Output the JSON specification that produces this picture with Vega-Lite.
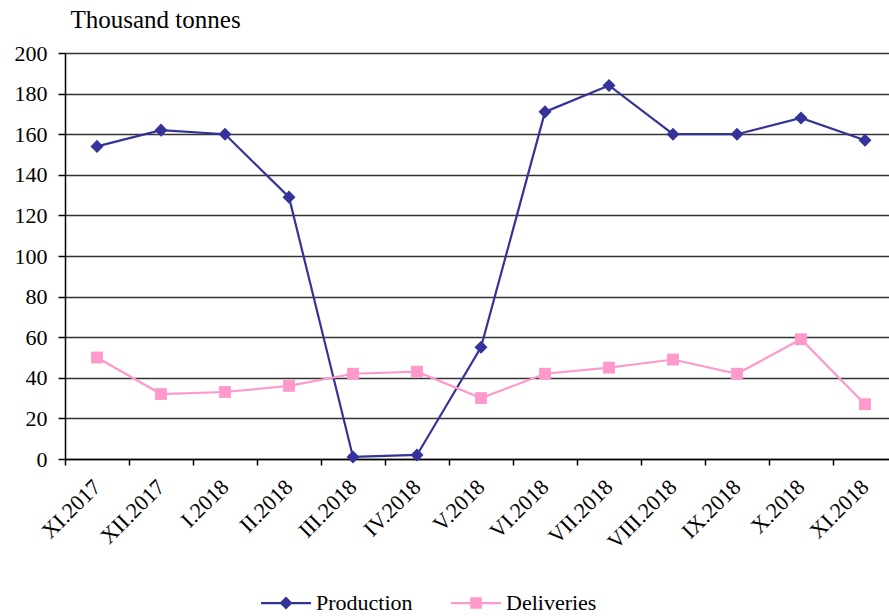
{
  "$schema": "https://vega.github.io/schema/vega-lite/v6.json",
  "autosize": "none",
  "width": 824,
  "height": 406,
  "padding": {"left": 65, "top": 53, "right": 0, "bottom": 157},
  "background": "white",
  "data": {"values": [
    {"month": "XI.2017", "series": "Production", "value": 154},
    {"month": "XII.2017", "series": "Production", "value": 162},
    {"month": "I.2018", "series": "Production", "value": 160},
    {"month": "II.2018", "series": "Production", "value": 129},
    {"month": "III.2018", "series": "Production", "value": 1},
    {"month": "IV.2018", "series": "Production", "value": 2},
    {"month": "V.2018", "series": "Production", "value": 55},
    {"month": "VI.2018", "series": "Production", "value": 171},
    {"month": "VII.2018", "series": "Production", "value": 184},
    {"month": "VIII.2018", "series": "Production", "value": 160},
    {"month": "IX.2018", "series": "Production", "value": 160},
    {"month": "X.2018", "series": "Production", "value": 168},
    {"month": "XI.2018", "series": "Production", "value": 157},
    {"month": "XI.2017", "series": "Deliveries", "value": 50},
    {"month": "XII.2017", "series": "Deliveries", "value": 32},
    {"month": "I.2018", "series": "Deliveries", "value": 33},
    {"month": "II.2018", "series": "Deliveries", "value": 36},
    {"month": "III.2018", "series": "Deliveries", "value": 42},
    {"month": "IV.2018", "series": "Deliveries", "value": 43},
    {"month": "V.2018", "series": "Deliveries", "value": 30},
    {"month": "VI.2018", "series": "Deliveries", "value": 42},
    {"month": "VII.2018", "series": "Deliveries", "value": 45},
    {"month": "VIII.2018", "series": "Deliveries", "value": 49},
    {"month": "IX.2018", "series": "Deliveries", "value": 42},
    {"month": "X.2018", "series": "Deliveries", "value": 59},
    {"month": "XI.2018", "series": "Deliveries", "value": 27}
  ]},
  "encoding": {
    "x": {
      "field": "month", "type": "ordinal",
      "sort": ["XI.2017","XII.2017","I.2018","II.2018","III.2018","IV.2018","V.2018","VI.2018","VII.2018","VIII.2018","IX.2018","X.2018","XI.2018"],
      "scale": {"type": "band", "range": [0, 832], "paddingInner": 0, "paddingOuter": 0},
      "axis": {
        "title": null, "bandPosition": 0, "labelAngle": -45, "labelAlign": "right", "labelBaseline": "middle",
        "labelFontSize": 22, "labelColor": "black",
        "labelPadding": 18, "tickSize": 6, "tickColor": "black", "domainColor": "black", "domainWidth": 1.5, "tickWidth": 1.5,
        "grid": false, "labelOverlap": false
      }
    },
    "y": {
      "field": "value", "type": "quantitative",
      "scale": {"domain": [0, 200], "nice": false},
      "axis": {
        "values": [0,20,40,60,80,100,120,140,160,180,200],
        "title": "Thousand tonnes", "titleAngle": 0, "titleX": 5, "titleY": -26, "titleAlign": "left", "titleBaseline": "alphabetic",
        "titleFontSize": 25, "titleFontWeight": "normal", "titleColor": "black",
        "labelFontSize": 22, "labelColor": "black", "labelPadding": 11,
        "tickSize": 7, "tickColor": "black", "tickWidth": 1.5, "domainColor": "black", "domainWidth": 1.5,
        "grid": true, "gridColor": "#333333", "gridWidth": 1.3
      }
    }
  },
  "layer": [
    {
      "transform": [{"filter": "datum.series === 'Production'"}],
      "mark": {"type": "line", "strokeWidth": 2.2, "color": "#333399"},
      "encoding": {}
    },
    {
      "transform": [{"filter": "datum.series === 'Deliveries'"}],
      "mark": {"type": "line", "strokeWidth": 2.2, "color": "#FF99CC"},
      "encoding": {}
    },
    {
      "transform": [{"filter": "datum.series === 'Production'"}],
      "mark": {"type": "point", "filled": true, "opacity": 1, "shape": "diamond", "size": 170, "color": "#333399"}
    },
    {
      "transform": [{"filter": "datum.series === 'Deliveries'"}],
      "mark": {"type": "point", "filled": true, "opacity": 1, "shape": "square", "size": 140, "color": "#FF99CC"}
    },
    {
      "mark": {"type": "point", "filled": true, "opacity": 0, "size": 2500},
      "encoding": {
        "color": {"field": "series", "type": "nominal", "scale": {"domain": ["Production", "Deliveries"], "range": ["#333399", "#FF99CC"]},
          "legend": {"title": null, "orient": "none", "legendX": 196, "legendY": 525, "direction": "horizontal", "symbolOpacity": 1}},
        "shape": {"field": "series", "type": "nominal", "scale": {"domain": ["Production", "Deliveries"], "range": [
          "M-1,-0.045H1V0.045H-1Z M0,-0.26L0.26,0L0,0.26L-0.26,0Z",
          "M-1,-0.045H1V0.045H-1Z M-0.23,-0.23H0.23V0.23H-0.23Z"]},
          "legend": {"title": null, "orient": "none", "legendX": 196, "legendY": 525, "direction": "horizontal", "symbolOpacity": 1}}
      }
    }
  ],
  "config": {
    "font": "Liberation Serif, Times New Roman, Times, serif",
    "view": {"stroke": null},
    "legend": {
      "labelFontSize": 22, "labelColor": "black", "labelOffset": 5,
      "symbolSize": 2500, "symbolStrokeWidth": 0, "columnPadding": 38, "symbolOpacity": 1
    }
  }
}
